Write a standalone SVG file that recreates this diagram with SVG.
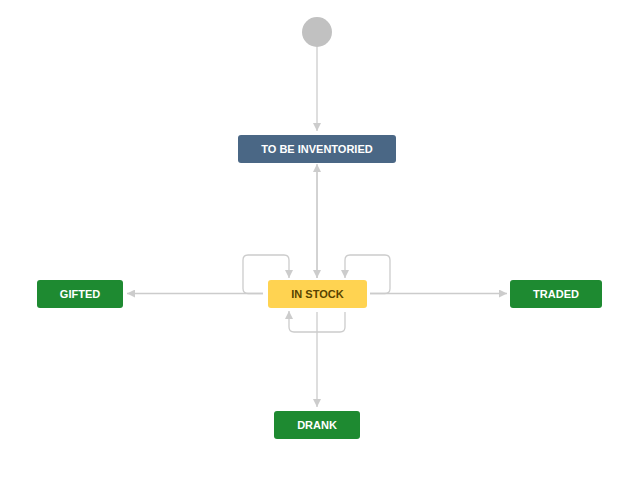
<svg xmlns="http://www.w3.org/2000/svg" width="640" height="477" viewBox="0 0 640 477">
<style>
.edge{fill:none;stroke:#cccccc;stroke-width:1.3}
.lbl{font-family:"Liberation Sans",Arial,sans-serif;font-size:11px;font-weight:bold;text-anchor:middle;dominant-baseline:central}
.w{fill:#ffffff}
.green{fill:#1e8a31}
</style>
<defs>
<marker id="ah" viewBox="0 0 10 10" refX="10" refY="5" markerWidth="8" markerHeight="8" markerUnits="userSpaceOnUse" orient="auto">
<path d="M0,0 L10,5 L0,10 z" fill="#cccccc"/>
</marker>
</defs>
<rect width="640" height="477" fill="#ffffff"/>
<g id="connectors">
<path class="edge" d="M317,47 V131" marker-end="url(#ah)"/>
<path class="edge" d="M317,278 V164" marker-end="url(#ah)"/>
<path class="edge" d="M317,166 V278" marker-end="url(#ah)"/>
<path class="edge" d="M263,293.5 H127" marker-end="url(#ah)"/>
<path class="edge" d="M370,293.5 H507" marker-end="url(#ah)"/>
<path class="edge" d="M317,312 V407" marker-end="url(#ah)"/>
<path class="edge" d="M263,293.5 H248 Q243,293.5 243,288.5 V260 Q243,255 248,255 H284 Q289,255 289,260 V278" marker-end="url(#ah)"/>
<path class="edge" d="M370,293.5 H385 Q390,293.5 390,288.5 V260 Q390,255 385,255 H350 Q345,255 345,260 V278" marker-end="url(#ah)"/>
<path class="edge" d="M345,312 V327 Q345,332 340,332 H294 Q289,332 289,327 V311" marker-end="url(#ah)"/>
</g>
<g id="start"><circle cx="317" cy="32" r="15" fill="#c1c1c1"/></g>
<g id="to-be-inventoried">
<rect x="238" y="135" width="158" height="28" rx="3" fill="#4a6785"/>
<text class="lbl w" x="317" y="149">TO BE INVENTORIED</text>
</g>
<g id="in-stock">
<rect x="268" y="280" width="99" height="28" rx="3" fill="#ffd351"/>
<text class="lbl" x="317.5" y="294" fill="#594300">IN STOCK</text>
</g>
<g id="gifted">
<rect class="green" x="37" y="280" width="86" height="28" rx="3"/>
<text class="lbl w" x="80" y="294">GIFTED</text>
</g>
<g id="traded">
<rect class="green" x="510" y="280" width="92" height="28" rx="3"/>
<text class="lbl w" x="556" y="294">TRADED</text>
</g>
<g id="drank">
<rect class="green" x="274" y="411" width="86" height="28" rx="3"/>
<text class="lbl w" x="317" y="425">DRANK</text>
</g>
</svg>
